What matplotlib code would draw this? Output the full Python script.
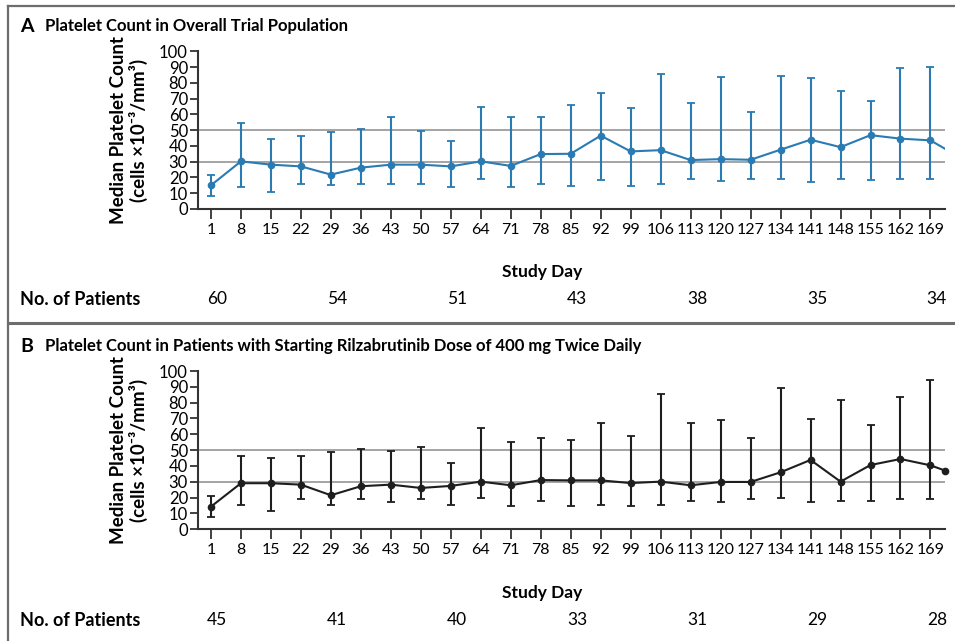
import numpy as np
import matplotlib
matplotlib.use('Agg')
import matplotlib.pyplot as plt
from matplotlib.lines import Line2D
from matplotlib.transforms import blended_transform_factory

plt.rcParams['font.family'] = ['Lato', 'DejaVu Sans']

# Study days (last entry is the partial point at the right edge)
days = [1, 8, 15, 22, 29, 36, 43, 50, 57, 64, 71, 78, 85, 92, 99, 106,
        113, 120, 127, 134, 141, 148, 155, 162, 169, 172.5]

# Panel A: overall trial population
med_a = [15, 30.2, 28.1, 27, 21.8, 26.2, 28.1, 28.1, 27, 30.2, 27.3, 34.8, 35,
         46.5, 36.5, 37.3, 31, 31.6, 31.2, 37.6, 43.9, 39.2, 46.8, 44.6, 43.5, 38]
low_a = [8.2, 13.9, 10.8, 15.8, 15, 15.8, 15.8, 15.8, 14, 19.2, 14.2, 15.8, 14.8,
         18.4, 14.8, 15.8, 19.2, 17.7, 18.8, 19.2, 17.1, 18.8, 18.4, 19.2, 19.2]
high_a = [21.5, 54.4, 44.3, 46.2, 48.7, 50.9, 58.2, 49.2, 43, 64.6, 58.2, 58.2, 66,
          73.7, 63.9, 85.4, 67.3, 83.8, 61.6, 84.2, 83.2, 74.5, 68.4, 89.5, 90.3]
n_days = [1, 29, 57, 85, 113, 141, 169]
n_a = [60, 54, 51, 43, 38, 35, 34]

# Panel B: starting dose 400 mg twice daily
med_b = [14.3, 29.1, 29.1, 28.2, 21.5, 27.2, 28.2, 26.1, 27.4, 30.1, 27.8, 31.1, 30.9,
         30.9, 29.2, 30.1, 27.8, 29.9, 29.9, 36, 43.8, 30.1, 40.6, 44.4, 40.4, 37]
low_b = [8, 15.5, 11.8, 19, 15.5, 19, 17.1, 19, 15.5, 20, 14.7, 17.9, 14.7,
         15.5, 14.7, 15.5, 18, 17.1, 19.1, 19.6, 17.1, 18, 18, 19.1, 19.1]
high_b = [21.2, 46.1, 45, 46.1, 48.6, 50.7, 49.7, 51.8, 41.7, 64.2, 55.1, 57.9, 56.2,
          67.2, 59.1, 85.3, 67.2, 69, 57.9, 89.3, 69.9, 81.9, 65.9, 83.6, 94.4]
n_b = [45, 41, 40, 33, 31, 29, 28]

W, H = 955, 641
fig = plt.figure(figsize=(W / 100, H / 100), dpi=100)

# frame lines
fig.add_artist(Line2D([8 / W, 8 / W], [0, 1 - 6 / H], color='#6d6d6d', lw=1.6))
fig.add_artist(Line2D([8 / W, 1], [1 - 6 / H, 1 - 6 / H], color='#6d6d6d', lw=1.6))
fig.add_artist(Line2D([8 / W, 1], [1 - 323 / H, 1 - 323 / H], color='#6d6d6d', lw=2.2))


def panel(ax, med, low, high, color, end_marker):
    n = len(low)
    med = np.array(med)
    yerr = [med[:n] - np.array(low), np.array(high) - med[:n]]
    ax.axhline(30, color='#8c8c8c', lw=1.1, zorder=0)
    ax.axhline(50, color='#8c8c8c', lw=1.1, zorder=0)
    ax.plot(days, med, color=color, lw=1.5, zorder=2)
    ax.errorbar(days[:n], med[:n], yerr=yerr, fmt='o', color=color, ms=4.5,
                elinewidth=1.5, capsize=3, capthick=1.3, zorder=3)
    if end_marker:
        ax.plot(days[-1:], med[-1:], 'o', color=color, ms=4.5, clip_on=False, zorder=3)
    ax.set_xlim(-2.1, 172.5)
    ax.set_ylim(0, 100)
    ax.set_xticks(days[:n])
    ax.set_yticks(range(0, 101, 10))
    for s in ['top', 'right']:
        ax.spines[s].set_visible(False)
    for s in ['left', 'bottom']:
        ax.spines[s].set_color('#333333')
        ax.spines[s].set_linewidth(1.5)
    ax.tick_params(axis='y', length=6, width=1.3, color='#333333', labelsize=12, pad=1)
    ax.tick_params(axis='x', length=7, width=1.3, color='#333333', labelsize=11.5, pad=3)
    ax.set_ylabel('Median Platelet Count\n(cells ×10⁻³/mm³)', fontsize=13.5,
                  fontweight='bold', labelpad=8, linespacing=1.1)


axA = fig.add_axes([0.207, 0.674, 0.783, 0.246])
panel(axA, med_a, low_a, high_a, '#2a7bb3', False)
axB = fig.add_axes([0.207, 0.1743, 0.783, 0.2469])
panel(axB, med_b, low_b, high_b, '#1e1e1e', True)

# titles
fig.text(20 / W, 1 - 26 / H, 'A', fontsize=14, fontweight='bold', va='center')
fig.text(45 / W, 1 - 26 / H, 'Platelet Count in Overall Trial Population',
         fontsize=12, fontweight='bold', va='center')
fig.text(20 / W, 1 - 346 / H, 'B', fontsize=14, fontweight='bold', va='center')
fig.text(45 / W, 1 - 346 / H,
         'Platelet Count in Patients with Starting Rilzabrutinib Dose of 400 mg Twice Daily',
         fontsize=12, fontweight='bold', va='center')

for ax, counts, y_sd, y_n in [(axA, n_a, 272, 299), (axB, n_b, 593, 620)]:
    fig.text(542 / W, 1 - y_sd / H, 'Study Day', fontsize=12.5, fontweight='bold',
             ha='center', va='center')
    fig.text(20 / W, 1 - y_n / H, 'No. of Patients', fontsize=13, fontweight='bold',
             ha='left', va='center')
    tr = blended_transform_factory(ax.transData, fig.transFigure)
    for d, c in zip(n_days, counts):
        ax.text(d + 1.5, 1 - y_n / H, str(c), transform=tr, fontsize=12.5,
                ha='center', va='center')

fig.savefig('out.png', dpi=100)
